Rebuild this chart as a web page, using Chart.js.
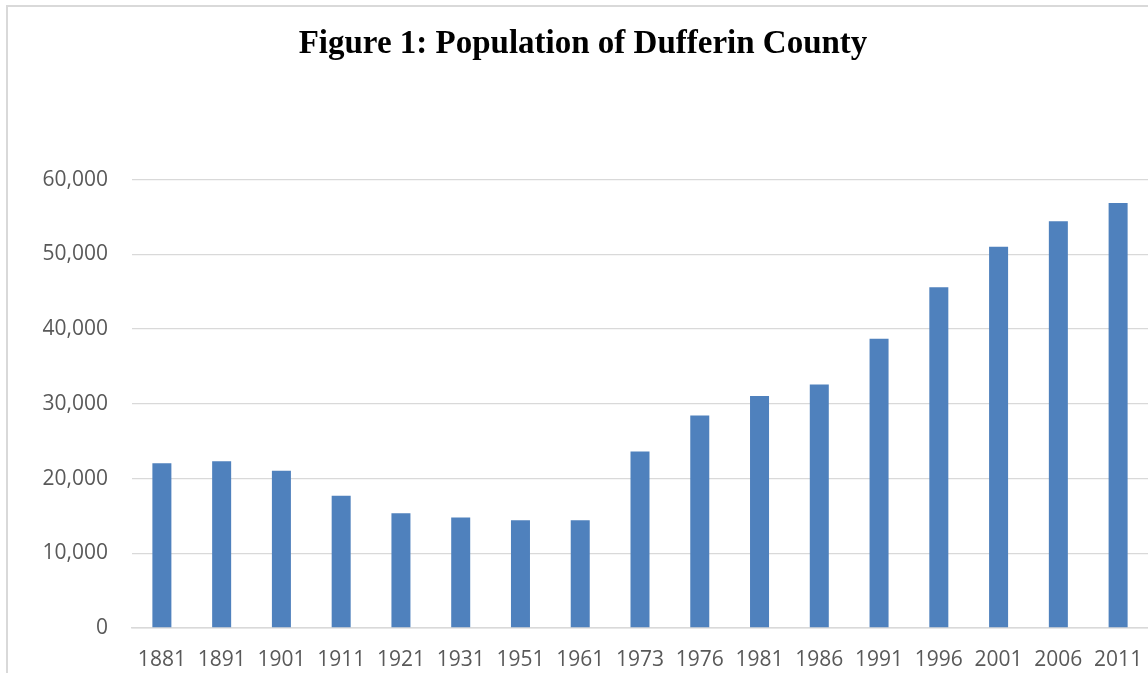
<!DOCTYPE html>
<html>
<head>
<meta charset="utf-8">
<script src="https://cdn.jsdelivr.net/npm/chart.js@4"></script>
<style>
  html, body { margin: 0; padding: 0; background: #fff; overflow: hidden; }
  #frame { position: absolute; left: 6px; top: 5px; width: 2000px; height: 2000px;
           border-left: 2px solid #d9d9d9; border-top: 2px solid #d9d9d9; }
  #myChart { position: absolute; left: 0; top: 0; }
</style>
</head>
<body>
<div id="frame"></div>
<canvas id="myChart" width="1148" height="673"></canvas>
<script>
// census years and population
var years = ["1881", "1891", "1901", "1911", "1921", "1931", "1951", "1961", "1973",
             "1976", "1981", "1986", "1991", "1996", "2001", "2006", "2011"];
var population = [22060, 22320, 21030, 17690, 15340, 14770, 14420, 14420, 23630,
                  28440, 31060, 32580, 38720, 45610, 51000, 54420, 56880];
var yTicks = [0, 10000, 20000, 30000, 40000, 50000, 60000];

var ctx = document.getElementById('myChart').getContext('2d');
var chart = new Chart(ctx, {
    type: 'bar',
    data: {
        labels: years,
        datasets: [{
            label: "Population",
            backgroundColor: '#4F81BD',
            borderWidth: 0,
            data: population,
            barPercentage: 0.318,
            categoryPercentage: 1
        }]
    },
    options: {
        responsive: false,
        animation: false,
        layout: { padding: { left: 18, right: 0, top: 0, bottom: 0 } },
        plugins: {
            legend: { display: false },
            tooltip: { enabled: false },
            title: {
                display: true,
                text: 'Figure 1: Population of Dufferin County',
                color: '#000',
                font: { family: '"Liberation Serif", serif', size: 33, weight: 'bold' },
                padding: { top: 25, bottom: 115 }
            }
        },
        scales: {
            x: {
                grid: { display: false, drawTicks: false },
                border: { display: true, color: '#d9d9d9', width: 1.5 },
                ticks: {
                    color: '#595959',
                    font: { family: '"Open Sans", sans-serif', size: 21 },
                    padding: 19,
                    maxRotation: 0,
                    autoSkip: false
                },
                afterFit: function (scale) {
                    scale.height = 45;
                    // let the plot run to the right edge like the cropped original
                    scale.paddingRight = 0;
                    scale.paddingLeft = 0;
                }
            },
            y: {
                min: 0,
                max: 60000,
                afterBuildTicks: function (scale) {
                    scale.ticks = yTicks.map(function (v) { return { value: v }; });
                },
                grid: { color: '#d9d9d9', lineWidth: 1.3, drawTicks: false },
                border: { display: false },
                ticks: {
                    color: '#595959',
                    font: { family: '"Open Sans", sans-serif', size: 21 },
                    padding: 24,
                    callback: function (v) { return v.toLocaleString('en-US'); }
                },
                afterFit: function (scale) { scale.width = 114; }
            }
        }
    }
});
</script>
</body>
</html>
